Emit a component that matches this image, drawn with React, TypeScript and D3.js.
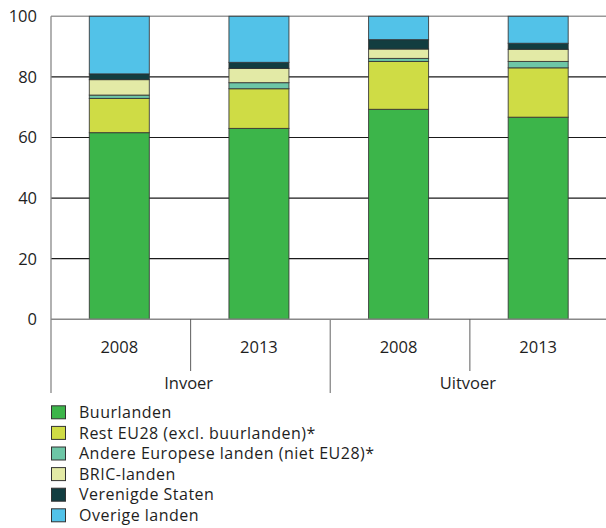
import React from "react";
import * as d3 from "d3";

const groups = ["Invoer", "Uitvoer"];
const years = ["2008", "2013"];
const categories = ["Invoer|2008", "Invoer|2013", "Uitvoer|2008", "Uitvoer|2013"];
const seriesNames = [
  "Buurlanden",
  "Rest EU28 (excl. buurlanden)*",
  "Andere Europese landen (niet EU28)*",
  "BRIC-landen",
  "Verenigde Staten",
  "Overige landen",
];
const buurlanden = [61.6, 63.0, 69.3, 66.7];
const restEU28 = [11.3, 13.1, 15.8, 16.3];
const andereEuropese = [1.1, 2.0, 1.0, 2.1];
const bric = [5.1, 4.7, 3.1, 4.0];
const verenigdeStaten = [1.9, 2.0, 3.1, 2.0];
const overige = [19.0, 15.2, 7.7, 8.9];
const yTicks = [0, 20, 40, 60, 80, 100];
const colors = ["#3cb54a", "#cfdc45", "#6dc6a6", "#e3eaa6", "#123d40", "#52c2e8"];

const W = 606;
const H = 528;
const left = 51;
const right = 609.5;
const top = 16.3;
const bottom = 319.3;
const font = "'Open Sans', sans-serif";

export default function App() {
  const seriesValues = [buurlanden, restEU28, andereEuropese, bric, verenigdeStaten, overige];
  const rows = categories.map((c, i) => {
    const r: Record<string, number | string> = { cat: c };
    seriesNames.forEach((s, j) => (r[s] = seriesValues[j][i]));
    return r;
  });
  const stack = d3.stack<any>().keys(seriesNames)(rows as any);
  const x = d3.scaleBand().domain(categories).range([left, right]).paddingInner(0).paddingOuter(0);
  const y = d3.scaleLinear().domain([0, 100]).range([bottom, top]);
  const barW = 60;
  const gx = d3.scaleBand().domain(groups).range([left, right]);

  return (
    <div style={{ position: "absolute", left: 0, top: 0 }}>
      <svg width={W} height={H} style={{ display: "block" }} fontFamily={font}>
        {yTicks.filter((t) => t > 0 && t < 100).map((t) => (
          <line key={t} x1={left} x2={W} y1={y(t)} y2={y(t)} stroke="#1a1a1a" strokeWidth={1.2} />
        ))}
        <line x1={left} x2={W} y1={y(100)} y2={y(100)} stroke="#999" strokeWidth={1.6} />
        {stack.map((s, si) =>
          s.map((d, i) => {
            const cx = (x(categories[i]) as number) + x.bandwidth() / 2 - 1.5;
            return (
              <rect
                key={si + "-" + i}
                x={cx - barW / 2}
                width={barW}
                y={y(d[1])}
                height={y(d[0]) - y(d[1])}
                fill={colors[si]}
                stroke="#333"
                strokeOpacity={0.85}
                strokeWidth={1}
              />
            );
          })
        )}
        <line x1={left} x2={W} y1={y(0)} y2={y(0)} stroke="#888" strokeWidth={1.6} />
        <line x1={left} x2={left} y1={y(100)} y2={393} stroke="#888" strokeWidth={1.3} />
        {yTicks.map((t) => (
          <text key={t} x={37} y={y(t)} dy="0.36em" textAnchor="end" fontSize={16.5} fill="#1e1e1e">
            {t}
          </text>
        ))}
        {categories.map((c, i) => {
          const x0 = x(c) as number;
          const yr = years[i % years.length];
          return (
            <g key={c}>
              {i > 0 && (
                <line
                  x1={x0}
                  x2={x0}
                  y1={y(0)}
                  y2={i % years.length === 0 ? 393 : 371}
                  stroke={i % years.length === 0 ? "#888" : "#333"}
                  strokeWidth={i % years.length === 0 ? 1.3 : 0.8}
                />
              )}
              <text x={x0 + x.bandwidth() / 2 - 1.5} y={347} dy="0.36em" textAnchor="middle" fontSize={16.5} fill="#1e1e1e">
                {yr}
              </text>
            </g>
          );
        })}
        {groups.map((g) => (
          <text key={g} x={(gx(g) as number) + gx.bandwidth() / 2 - 2} y={383} dy="0.36em" textAnchor="middle" fontSize={16.5} fill="#1e1e1e">
            {g}
          </text>
        ))}
        {seriesNames.map((s, i) => {
          const cy = 412.3 + i * 20.6;
          return (
            <g key={s}>
              <rect x={51.5} y={cy - 6.5} width={14} height={13} fill={colors[i]} stroke="#333" strokeWidth={1} />
              <text x={79} y={cy} dy="0.36em" fontSize={16} letterSpacing={0.5} fill="#1e1e1e">
                {s}
              </text>
            </g>
          );
        })}
      </svg>
    </div>
  );
}
